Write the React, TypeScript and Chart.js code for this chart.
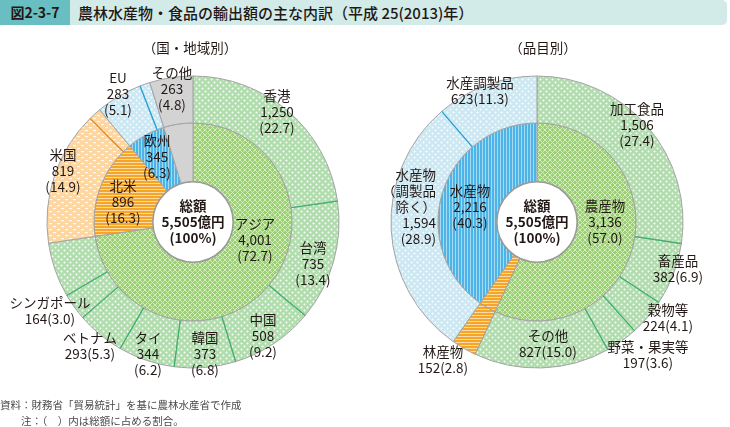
import React, { useEffect, useRef } from "react";
import { Chart, registerables } from "chart.js";

Chart.register(...registerables);

// ---------- Data: 国・地域別 ----------
const regionLabels = ["アジア", "北米", "欧州", "その他"];
const regionValues = [4001, 896, 345, 263];
const regionShares = [72.7, 16.3, 6.3, 4.8];

const countryLabels = ["香港", "台湾", "中国", "韓国", "タイ", "ベトナム", "シンガポール", "その他アジア", "米国", "その他北米", "EU", "その他欧州", "その他"];
const countryValues = [1250, 735, 508, 373, 344, 293, 164, 334, 819, 77, 283, 62, 263];
const countryShares = [22.7, 13.4, 9.2, 6.8, 6.2, 5.3, 3.0, 6.1, 14.9, 1.4, 5.1, 1.1, 4.8];

// ---------- Data: 品目別 ----------
const groupLabels = ["農産物", "林産物", "水産物"];
const groupValues = [3136, 152, 2216];
const groupShares = [57.0, 2.8, 40.3];

const itemLabels = ["加工食品", "畜産品", "穀物等", "野菜・果実等", "その他", "林産物", "水産物（調製品除く）", "水産調製品"];
const itemValues = [1506, 382, 224, 197, 827, 152, 1594, 623];
const itemShares = [27.4, 6.9, 4.1, 3.6, 15.0, 2.8, 28.9, 11.3];

const totalValue = 5505;
const totalUnit = "億円";

// ---------- helpers ----------
const fmt = (v: number) => v.toLocaleString("en-US");
const sh = (s: number) => `(${s.toFixed(1)})`;
const three = (n: string, v: number, s: number) => [n, fmt(v), sh(s)];
const two = (n: string, v: number, s: number) => [n, `${fmt(v)}${sh(s)}`];

const TEXT = "#231815";
const FONT = '"Noto Sans CJK JP", "Noto Sans", sans-serif';

type Lbl = { lines: string[]; dx: number; dy: number; bold?: boolean; align?: CanvasTextAlign };

const centerLines = ["総額", `${fmt(totalValue)}${totalUnit}`, "(100%)"];

const leftLabels: Lbl[] = [
  { lines: ["（国・地域別）"], dx: -3, dy: -174 },
  { lines: three(countryLabels[0], countryValues[0], countryShares[0]), dx: 84, dy: -110 },
  { lines: three(countryLabels[1], countryValues[1], countryShares[1]), dx: 120, dy: 42 },
  { lines: three(countryLabels[2], countryValues[2], countryShares[2]), dx: 70, dy: 114 },
  { lines: three(countryLabels[3], countryValues[3], countryShares[3]), dx: 12, dy: 132 },
  { lines: three(countryLabels[4], countryValues[4], countryShares[4]), dx: -45, dy: 132 },
  { lines: two(countryLabels[5], countryValues[5], countryShares[5]), dx: -103, dy: 124 },
  { lines: two(countryLabels[6], countryValues[6], countryShares[6]), dx: -143, dy: 89 },
  { lines: three(countryLabels[8], countryValues[8], countryShares[8]), dx: -130, dy: -51 },
  { lines: three(countryLabels[10], countryValues[10], countryShares[10]), dx: -75, dy: -128 },
  { lines: three(countryLabels[12], countryValues[12], countryShares[12]), dx: -21, dy: -133 },
  { lines: three(regionLabels[0], regionValues[0], regionShares[0]), dx: 62, dy: 18 },
  { lines: three(regionLabels[1], regionValues[1], regionShares[1]), dx: -70, dy: -20 },
  { lines: three(regionLabels[2], regionValues[2], regionShares[2]), dx: -36, dy: -65 },
  { lines: centerLines, dx: 0, dy: 0, bold: true },
];

const rightLabels: Lbl[] = [
  { lines: ["（品目別）"], dx: 6, dy: -174 },
  { lines: three(itemLabels[0], itemValues[0], itemShares[0]), dx: 100, dy: -97 },
  { lines: two(itemLabels[1], itemValues[1], itemShares[1]), dx: 141, dy: 47 },
  { lines: two(itemLabels[2], itemValues[2], itemShares[2]), dx: 131, dy: 96 },
  { lines: two(itemLabels[3], itemValues[3], itemShares[3]), dx: 111, dy: 133 },
  { lines: two(itemLabels[4], itemValues[4], itemShares[4]), dx: 11, dy: 122 },
  { lines: two(itemLabels[5], itemValues[5], itemShares[5]), dx: -94, dy: 138 },
  { lines: ["水産物", "（調製品", "除く）", fmt(itemValues[6]), sh(itemShares[6])], dx: -101, dy: -15, align: "right" },
  { lines: two(itemLabels[7], itemValues[7], itemShares[7]), dx: -57, dy: -131 },
  { lines: three(groupLabels[0], groupValues[0], groupShares[0]), dx: 68, dy: 0 },
  { lines: three(groupLabels[2], groupValues[2], groupShares[2]), dx: -67, dy: -15 },
  { lines: centerLines, dx: 0, dy: 0, bold: true },
];

// ---------- patterns ----------
function makePattern(w: number, h: number, draw: (c: CanvasRenderingContext2D) => void) {
  const cv = document.createElement("canvas");
  cv.width = w;
  cv.height = h;
  const c = cv.getContext("2d")!;
  draw(c);
  return c.createPattern(cv, "repeat")!;
}
function dots(bg: string) {
  return makePattern(6, 6, (c) => {
    c.fillStyle = bg;
    c.fillRect(0, 0, 6, 6);
    c.fillStyle = "rgba(255,255,255,0.95)";
    for (const [x, y] of [[1.5, 1.5], [4.5, 4.5]]) {
      c.beginPath();
      c.arc(x, y, 1.0, 0, Math.PI * 2);
      c.fill();
    }
  });
}
function cross(bg: string) {
  return makePattern(5, 5, (c) => {
    c.fillStyle = bg;
    c.fillRect(0, 0, 5, 5);
    c.strokeStyle = "rgba(214,238,192,0.95)";
    c.lineWidth = 1;
    c.beginPath();
    c.moveTo(-1, -1); c.lineTo(6, 6);
    c.moveTo(-1, 6); c.lineTo(6, -1);
    c.stroke();
  });
}
function hStripes(bg: string) {
  return makePattern(3, 3, (c) => {
    c.fillStyle = bg;
    c.fillRect(0, 0, 3, 3);
    c.fillStyle = "rgba(255,255,255,0.6)";
    c.fillRect(0, 0, 3, 1);
  });
}
function vStripes(bg: string) {
  return makePattern(3, 3, (c) => {
    c.fillStyle = bg;
    c.fillRect(0, 0, 3, 3);
    c.fillStyle = "rgba(255,255,255,0.5)";
    c.fillRect(0, 0, 1, 3);
  });
}
function dashes(bg: string) {
  return makePattern(8, 6, (c) => {
    c.fillStyle = bg;
    c.fillRect(0, 0, 8, 6);
    c.fillStyle = "rgba(255,255,255,0.95)";
    c.fillRect(1, 1, 3, 1.2);
    c.fillRect(5, 4, 3, 1.2);
  });
}

const GREEN_DIV = "#3bb46e";
const ORANGE_DIV = "#ec8a1e";
const BLUE_DIV = "#22a3dd";

function overlayPlugin(labels: Lbl[], dividers: (string | null)[]) {
  return {
    id: "overlay",
    afterDatasetsDraw(chart: any) {
      const ctx: CanvasRenderingContext2D = chart.ctx;
      const outer = chart.getDatasetMeta(0).data;
      const inner = chart.getDatasetMeta(1).data;
      const cx = outer[0].x;
      const cy = outer[0].y;
      ctx.save();
      outer.forEach((arc: any, i: number) => {
        const col = dividers[i];
        if (!col) return;
        const a = arc.startAngle;
        ctx.strokeStyle = col;
        ctx.lineWidth = 1.2;
        ctx.beginPath();
        ctx.moveTo(cx + Math.cos(a) * arc.innerRadius, cy + Math.sin(a) * arc.innerRadius);
        ctx.lineTo(cx + Math.cos(a) * arc.outerRadius, cy + Math.sin(a) * arc.outerRadius);
        ctx.stroke();
      });
      const hr = inner[0].innerRadius;
      ctx.fillStyle = "#ffffff";
      ctx.strokeStyle = "#9a9a9a";
      ctx.lineWidth = 1.5;
      ctx.beginPath();
      ctx.arc(cx, cy, hr, 0, Math.PI * 2);
      ctx.fill();
      ctx.stroke();
      ctx.textBaseline = "middle";
      ctx.fillStyle = TEXT;
      const lh = 16;
      labels.forEach((l) => {
        ctx.font = `${l.bold ? "bold " : ""}13.5px ${FONT}`;
        ctx.textAlign = l.align || "center";
        const n = l.lines.length;
        l.lines.forEach((t, k) => {
          ctx.fillText(t, cx + l.dx, cy + l.dy + (k - (n - 1) / 2) * lh);
        });
      });
      ctx.restore();
    },
  };
}

function Donut(props: {
  outerValues: number[];
  innerValues: number[];
  outerNames: string[];
  outerBg: (p: Record<string, CanvasPattern | string>) => (CanvasPattern | string)[];
  innerBg: (p: Record<string, CanvasPattern | string>) => (CanvasPattern | string)[];
  dividers: (string | null)[];
  labels: Lbl[];
  padLeft: number;
  padRight: number;
  left: number;
}) {
  const ref = useRef<HTMLCanvasElement>(null);
  useEffect(() => {
    const p: Record<string, CanvasPattern | string> = {
      G: dots("#b1ddae"),
      GX: cross("#9dcf78"),
      LO: dashes("#fdd6a2"),
      OS: hStripes("#f6a526"),
      LB: dots("#cbe8f3"),
      BS: vStripes("#4cb4e6"),
      GR: "#d3d3d3",
    };
    const chart = new Chart(ref.current!, {
      type: "doughnut",
      data: {
        labels: props.outerNames,
        datasets: [
          { data: props.outerValues, backgroundColor: props.outerBg(p) as any, borderColor: "#a3a3a3", borderWidth: 1, weight: 47 } as any,
          { data: props.innerValues, backgroundColor: props.innerBg(p) as any, borderColor: "#a3a3a3", borderWidth: 1, weight: 59 } as any,
        ],
      },
      options: {
        animation: false,
        responsive: false,
        devicePixelRatio: 1,
        radius: 146,
        cutout: 40,
        events: [],
        layout: { padding: { left: props.padLeft, right: props.padRight, top: 76, bottom: 59 } },
        plugins: { legend: { display: false }, tooltip: { enabled: false } },
      } as any,
      plugins: [overlayPlugin(props.labels, props.dividers) as any],
    });
    return () => chart.destroy();
  }, []);
  return (
    <canvas
      ref={ref}
      width={365}
      height={427}
      style={{ position: "absolute", left: props.left, top: 0, width: 365, height: 427 }}
    />
  );
}

export default function App() {
  return (
    <div style={{ position: "absolute", left: 0, top: 0, width: 730, height: 427, background: "#fff", fontFamily: FONT, color: TEXT, overflow: "hidden" }}>
      <Donut
        outerValues={countryValues}
        innerValues={regionValues}
        outerNames={countryLabels}
        outerBg={(p) => [p.G, p.G, p.G, p.G, p.G, p.G, p.G, p.G, p.LO, p.LO, p.LB, p.LB, p.GR]}
        innerBg={(p) => [p.GX, p.OS, p.BS, p.GR]}
        dividers={[null, GREEN_DIV, GREEN_DIV, GREEN_DIV, GREEN_DIV, GREEN_DIV, GREEN_DIV, GREEN_DIV, null, ORANGE_DIV, null, BLUE_DIV, null]}
        labels={leftLabels}
        padLeft={47}
        padRight={26}
        left={0}
      />
      <Donut
        outerValues={itemValues}
        innerValues={groupValues}
        outerNames={itemLabels}
        outerBg={(p) => [p.G, p.G, p.G, p.G, p.G, p.OS, p.LB, p.LB]}
        innerBg={(p) => [p.GX, p.OS, p.BS]}
        dividers={[null, GREEN_DIV, GREEN_DIV, GREEN_DIV, GREEN_DIV, null, null, BLUE_DIV]}
        labels={rightLabels}
        padLeft={26}
        padRight={47}
        left={365}
      />
      <div style={{ position: "absolute", left: 0, top: 0, width: 70, height: 25, background: "#68bec0", fontWeight: 700, fontSize: 14, lineHeight: "25px", textAlign: "center" }}>
        図2-3-7
      </div>
      <div style={{ position: "absolute", left: 70, top: 0, width: 657, height: 25, background: "#d2ebe8", borderRadius: "0 5px 5px 0", fontSize: 15, fontWeight: 500, lineHeight: "25px", paddingLeft: 8, boxSizing: "border-box", whiteSpace: "nowrap" }}>
        農林水産物・食品の輸出額の主な内訳（平成 25(2013)年）
      </div>
      <div style={{ position: "absolute", left: 0, top: 398, fontSize: 10.5, lineHeight: "14px", color: "#4a4a4a", whiteSpace: "nowrap" }}>
        資料：財務省「貿易統計」を基に農林水産省で作成
      </div>
      <div style={{ position: "absolute", left: 21, top: 414, fontSize: 10.5, lineHeight: "14px", color: "#4a4a4a", whiteSpace: "nowrap" }}>
        注：（　）内は総額に占める割合。
      </div>
    </div>
  );
}
